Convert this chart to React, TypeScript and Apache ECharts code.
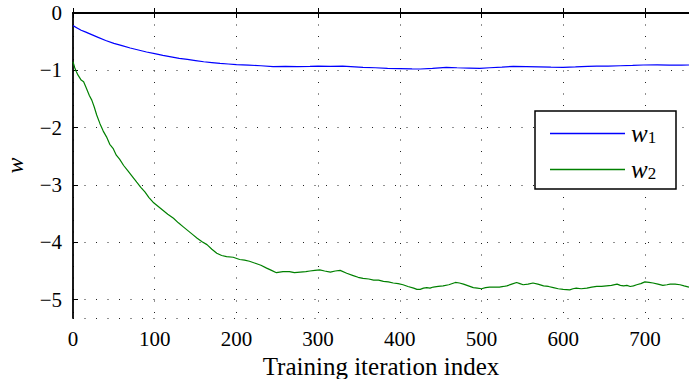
import React, { useEffect, useRef } from "react";
import * as echarts from "echarts";

const xTicks = [0, 100, 200, 300, 400, 500, 600, 700];
const yTicks = [0, -1, -2, -3, -4, -5];

const w1X = [0, 5, 10, 15, 20, 30, 40, 50, 60, 70, 80, 90, 100, 110, 120, 130, 140, 150, 160, 170, 180, 190, 200, 215, 230, 245, 260, 275, 290, 300, 315, 330, 345, 355, 370, 385, 400, 415, 425, 440, 457, 470, 485, 498, 510, 525, 539, 555, 570, 585, 600, 615, 630, 641, 655, 670, 685, 698, 715, 730, 745, 754];
const w1Y = [-0.22, -0.26, -0.3, -0.33, -0.36, -0.42, -0.48, -0.53, -0.57, -0.61, -0.645, -0.68, -0.71, -0.74, -0.765, -0.79, -0.81, -0.83, -0.85, -0.865, -0.88, -0.89, -0.9, -0.91, -0.92, -0.935, -0.93, -0.935, -0.93, -0.925, -0.93, -0.925, -0.94, -0.95, -0.955, -0.965, -0.97, -0.975, -0.977, -0.965, -0.948, -0.955, -0.96, -0.965, -0.955, -0.945, -0.93, -0.935, -0.94, -0.945, -0.948, -0.94, -0.93, -0.925, -0.925, -0.92, -0.915, -0.907, -0.905, -0.91, -0.908, -0.907];

const w2X = [0, 2, 4, 6, 10, 13, 16, 20, 23, 26, 29, 33, 37, 41, 45, 49, 53, 57, 62, 67, 72, 78, 83, 88, 93, 98, 104, 110, 116, 123, 129, 135, 141, 147, 152, 158, 164, 170, 176, 182, 188, 196, 204, 210, 216, 224, 230, 237, 243, 249, 257, 265, 271, 278, 285, 290, 296, 302, 308, 315, 321, 327, 335, 343, 349, 355, 362, 368, 374, 380, 386, 392, 398, 404, 410, 417, 421, 425, 429, 433, 437, 441, 447, 453, 460, 468, 473, 478, 484, 490, 495, 500, 505, 510, 516, 522, 527, 531, 537, 543, 547, 551, 557, 563, 569, 576, 582, 588, 594, 600, 608, 612, 616, 622, 629, 635, 641, 647, 653, 659, 666, 670, 674, 678, 682, 686, 690, 695, 700, 705, 710, 716, 722, 727, 731, 737, 743, 748, 754];
const w2Y = [-0.85, -0.95, -1.02, -1.08, -1.17, -1.2, -1.3, -1.44, -1.52, -1.64, -1.78, -1.93, -2.06, -2.16, -2.29, -2.36, -2.48, -2.55, -2.66, -2.75, -2.84, -2.95, -3.04, -3.12, -3.22, -3.3, -3.37, -3.44, -3.51, -3.58, -3.66, -3.73, -3.8, -3.87, -3.93, -3.99, -4.04, -4.12, -4.19, -4.23, -4.25, -4.26, -4.3, -4.31, -4.33, -4.37, -4.4, -4.45, -4.49, -4.53, -4.51, -4.51, -4.53, -4.52, -4.51, -4.5, -4.49, -4.48, -4.5, -4.52, -4.5, -4.49, -4.54, -4.58, -4.61, -4.63, -4.64, -4.66, -4.66, -4.68, -4.69, -4.71, -4.72, -4.74, -4.77, -4.8, -4.82, -4.82, -4.8, -4.79, -4.8, -4.78, -4.77, -4.76, -4.74, -4.7, -4.71, -4.73, -4.76, -4.79, -4.8, -4.81, -4.79, -4.78, -4.78, -4.78, -4.77, -4.76, -4.73, -4.7, -4.72, -4.74, -4.73, -4.71, -4.73, -4.76, -4.77, -4.79, -4.81, -4.82, -4.83, -4.81, -4.8, -4.81, -4.8, -4.78, -4.77, -4.77, -4.76, -4.75, -4.73, -4.75, -4.76, -4.75, -4.77, -4.76, -4.74, -4.72, -4.69, -4.7, -4.71, -4.73, -4.75, -4.74, -4.73, -4.73, -4.74, -4.76, -4.78];

const seriesNames = ["w1", "w2"];
const xTitle = "Training iteration index";
const yTitle = "w";

const FONT = "'Liberation Serif', 'DejaVu Serif', serif";

export default function App() {
  const ref = useRef<HTMLDivElement>(null);
  useEffect(() => {
    if (!ref.current) return;
    const chart = echarts.init(ref.current, undefined, { renderer: "svg" });
    const fmtY = (v: number) => (v === 0 ? "0" : "\u2212" + Math.abs(v));
    const dotted = { type: [1, 10.5] as any, color: "#222", width: 1 };
    chart.setOption({
      animation: false,
      backgroundColor: "#fff",
      textStyle: { fontFamily: FONT, color: "#000" },
      grid: { left: 73, top: 13, right: 0, bottom: 61, containLabel: false, outerBoundsMode: "none" },
      xAxis: [
        {
          type: "value",
          min: 0,
          max: 754,
          splitNumber: 8,
          position: "bottom",
          name: xTitle,
          nameLocation: "middle",
          nameGap: 33,
          nameTextStyle: { fontFamily: FONT, fontSize: 25, color: "#000" },
          axisLine: { show: true, lineStyle: { color: "#000", width: 1.8 } },
          axisTick: { show: true, inside: true, length: 5, lineStyle: { color: "#000", width: 1 } },
          axisLabel: {
            fontFamily: FONT,
            fontSize: 21,
            color: "#000",
            margin: 10,
            showMaxLabel: false,
            formatter: (v: number) => (xTicks.includes(v) ? String(v) : ""),
          },
          splitLine: { show: true, lineStyle: dotted },
        },
        {
          type: "value",
          min: 0,
          max: 754,
          splitNumber: 8,
          position: "top",
          axisLine: { show: true, lineStyle: { color: "#000", width: 1.8 } },
          axisTick: { show: true, inside: true, length: 5, lineStyle: { color: "#000", width: 1 } },
          axisLabel: { show: false },
          splitLine: { show: false },
        },
      ],
      yAxis: {
        type: "value",
        min: -5.32,
        max: 0,
        splitNumber: 5,
        name: yTitle,
        nameLocation: "middle",
        nameGap: 46,
        nameRotate: 90,
        nameTextStyle: { fontFamily: FONT, fontSize: 24, fontStyle: "italic", color: "#000" },
        axisLine: { show: true, lineStyle: { color: "#000", width: 1.8 } },
        axisTick: { show: true, inside: true, length: 5, lineStyle: { color: "#000", width: 1 } },
        axisLabel: {
          fontFamily: FONT,
          fontSize: 21,
          color: "#000",
          margin: 11,
          showMinLabel: false,
          formatter: (v: number) => (yTicks.includes(v) ? fmtY(v) : ""),
        },
        splitLine: { show: true, lineStyle: dotted },
      },
      graphic: [
        {
          type: "rect",
          z: 10,
          shape: { x: 535, y: 111, width: 141, height: 78 },
          style: { fill: "#fff", stroke: "#000", lineWidth: 1.5 },
        },
      ],
      legend: {
        z: 20,
        orient: "vertical",
        left: 550,
        top: 121,
        padding: 0,
        icon: "rect",
        itemWidth: 75,
        itemHeight: 1.4,
        itemGap: 11,
        data: seriesNames,
        formatter: (name: string) => "{w|w}{s|" + name.slice(1) + "}",
        textStyle: {
          color: "#000",
          fontFamily: FONT,
          padding: [0, 0, 0, 1],
          rich: {
            w: { fontFamily: FONT, fontStyle: "italic", fontSize: 25, color: "#000", lineHeight: 24 },
            s: { fontFamily: FONT, fontSize: 17, color: "#000", verticalAlign: "bottom", lineHeight: 24 },
          },
        },
      },
      series: [
        {
          name: seriesNames[0],
          type: "line",
          symbol: "none",
          data: w1X.map((x, i) => [x, w1Y[i]]),
          lineStyle: { color: "#0000ff", width: 1.2 },
          itemStyle: { color: "#0000ff" },
          z: 5,
        },
        {
          name: seriesNames[1],
          type: "line",
          symbol: "none",
          data: w2X.map((x, i) => [x, w2Y[i]]),
          lineStyle: { color: "#008000", width: 1.2 },
          itemStyle: { color: "#008000" },
          z: 5,
        },
      ],
    });
    return () => chart.dispose();
  }, []);
  return (
    <div
      ref={ref}
      style={{ position: "fixed", left: 0, top: 0, width: 689, height: 379, background: "#fff" }}
    />
  );
}
